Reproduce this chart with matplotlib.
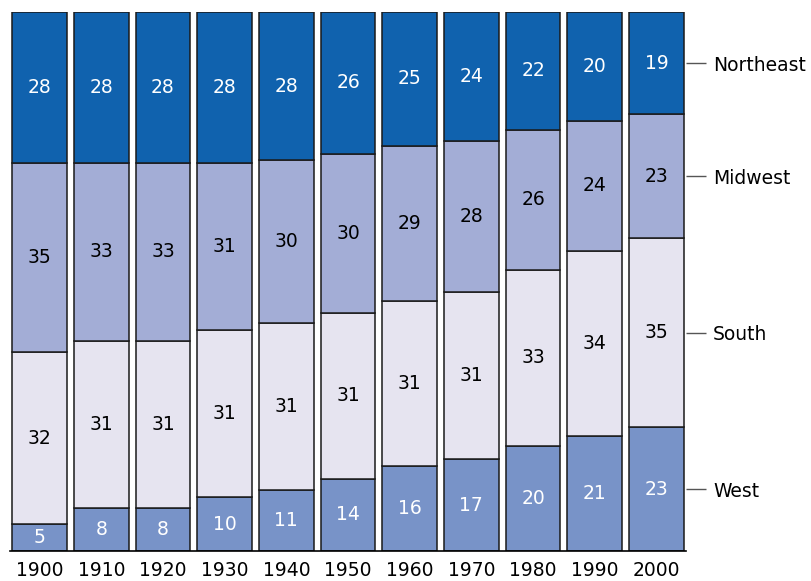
import numpy as np
import matplotlib.pyplot as plt

# podíly regionů (%) po dekádách - popisky
roky = ["1900", "1910", "1920", "1930", "1940", "1950", "1960", "1970", "1980", "1990", "2000"]
west = [5, 8, 8, 10, 11, 14, 16, 17, 20, 21, 23]
south = [32, 31, 31, 31, 31, 31, 31, 31, 33, 34, 35]
midwest = [35, 33, 33, 31, 30, 30, 29, 28, 26, 24, 23]
northeast = [28, 28, 28, 28, 28, 26, 25, 24, 22, 20, 19]
regiony = ["West", "South", "Midwest", "Northeast"]

# přesnější výšky segmentů (nezaokrouhlené)
west_h = [5.0, 8.0, 8.0, 10.0, 11.3, 13.45, 15.8, 17.0, 19.5, 21.35, 23.0]
south_h = [31.9, 31.0, 31.0, 31.0, 31.0, 30.7, 30.6, 31.0, 32.7, 34.3, 35.05]
midwest_h = [35.1, 33.0, 33.0, 31.0, 30.2, 29.55, 28.8, 28.05, 26.0, 24.2, 23.0]
northeast_h = [28.0, 28.0, 28.0, 28.0, 27.5, 26.3, 24.8, 23.95, 21.8, 20.2, 18.95]

barvy = ["#7893c8", "#e6e4f0", "#a3add6", "#1062ae"]
barvy_textu = ["white", "black", "black", "white"]

fig = plt.figure(figsize=(8.11, 5.81), dpi=100)
ax = fig.add_axes([10/811, 30/581, 676/811, 539/581])

x = np.arange(len(roky))
spodek = np.zeros(len(roky))
stredy = []
for vysky, popisky, barva, tb in zip([west_h, south_h, midwest_h, northeast_h],
                                      [west, south, midwest, northeast], barvy, barvy_textu):
    vysky = np.array(vysky)
    ax.bar(x, vysky, bottom=spodek, width=0.89, color=barva, edgecolor="#1a1a1a", linewidth=1.1)
    for xi, b, v, p in zip(x, spodek, vysky, popisky):
        ax.text(xi, b + v/2, str(p), ha="center", va="center", color=tb, fontsize=13.5)
    stredy.append(spodek[-1] + vysky[-1]/2)
    spodek = spodek + vysky

ax.set_xlim(-0.48, 10.48)
ax.set_ylim(0, 100)
ax.set_xticks(x)
ax.set_xticklabels(roky, fontsize=13.5)
ax.tick_params(axis="x", length=0, pad=7)

# popisky regionů vpravo
ax.yaxis.tick_right()
ax.set_yticks(stredy)
ax.set_yticklabels(regiony, fontsize=13.5)
ax.tick_params(axis="y", length=14.5, width=1, color="#555555", pad=5)

for s in ["left", "right", "top"]:
    ax.spines[s].set_visible(False)
ax.spines["bottom"].set_linewidth(1.2)

fig.savefig("out.png", dpi=100)
